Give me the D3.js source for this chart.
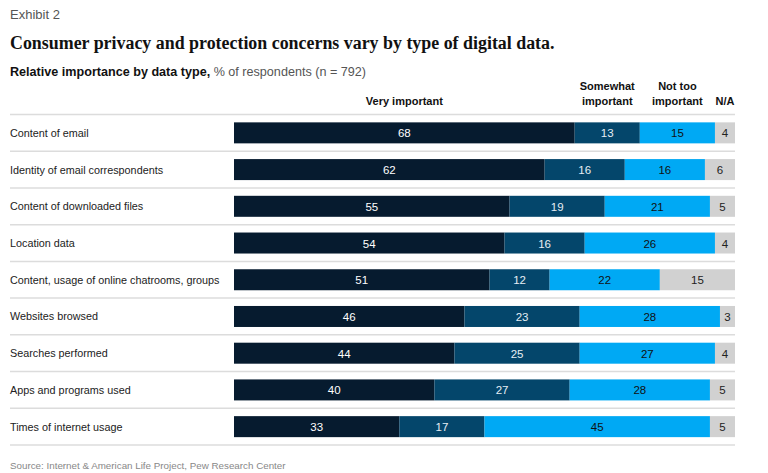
<!DOCTYPE html>
<html><head><meta charset="utf-8">
<script src="https://cdn.jsdelivr.net/npm/d3@7"></script>
<style>body{margin:0;background:#fff;} svg{display:block;}</style>
</head><body>
<svg id="chart" width="768" height="473"></svg>
<script>
const categories = ["Content of email","Identity of email correspondents","Content of downloaded files","Location data","Content, usage of online chatrooms, groups","Websites browsed","Searches performed","Apps and programs used","Times of internet usage"];
const veryImportant = [68,62,55,54,51,46,44,40,33];
const somewhatImportant = [13,16,19,16,12,23,25,27,17];
const notTooImportant = [15,16,21,26,22,28,27,28,45];
const notApplicable = [4,6,5,4,15,3,4,5,5];
const seriesNames = ["Very important","Somewhat important","Not too important","N/A"];
const seriesColors = ["#061b2f","#04466b","#00a9f4","#d1d1d1"];
const labelColors = ["#ffffff","#e6eef4","#111111","#222222"];

const svg = d3.select("#chart");
const font = "Helvetica, Arial, 'Liberation Sans', sans-serif";

svg.append("text").attr("x",10).attr("y",19).attr("font-family",font).attr("font-size",13).attr("fill","#555").text("Exhibit 2");
svg.append("text").attr("x",10).attr("y",49).attr("font-family","'Liberation Serif', 'DejaVu Serif', serif").attr("font-weight","bold").attr("font-size",17.9).attr("fill","#111").text("Consumer privacy and protection concerns vary by type of digital data.");
const sub = svg.append("text").attr("x",10).attr("y",76).attr("font-family",font).attr("font-size",12.6).attr("fill","#111");
sub.append("tspan").attr("font-weight","bold").text("Relative importance by data type,");
sub.append("tspan").attr("fill","#555").text(" % of respondents (n = 792)");

const data = categories.map((c,i)=>({cat:c, v:[veryImportant[i],somewhatImportant[i],notTooImportant[i],notApplicable[i]]}));
const x = d3.scaleLinear().domain([0,100]).range([234,735]);
const y = d3.scaleBand().domain(categories).range([114.5,445]).paddingInner(0).paddingOuter(0);
const barH = 21;

// header
const hdr = [
  {lines:["Very important"], cx:(x(0)+x(68))/2},
  {lines:["Somewhat","important"], cx:(x(68)+x(81))/2},
  {lines:["Not too","important"], cx:(x(81)+x(96))/2},
  {lines:["N/A"], cx:(x(96)+x(100))/2}
];
hdr.forEach(h=>{
  h.lines.forEach((l,k)=>{
    svg.append("text").attr("x",h.cx).attr("y",105 - (h.lines.length-1-k)*15).attr("text-anchor","middle")
      .attr("font-family",font).attr("font-weight","bold").attr("font-size",11).attr("fill","#111").text(l);
  });
});

// separators
const seps = [y.range()[0]].concat(categories.map(c=>y(c)+y.bandwidth()));
svg.selectAll("line.sep").data(seps).enter().append("line")
  .attr("x1",10).attr("x2",735).attr("y1",d=>d).attr("y2",d=>d)
  .attr("stroke","#dcdcdc").attr("stroke-width",1.5);

const rows = svg.selectAll("g.row").data(data).enter().append("g")
  .attr("transform",d=>`translate(0,${y(d.cat)+y.bandwidth()/2})`);
rows.append("text").attr("x",10).attr("y",4).attr("font-family",font).attr("font-size",10.8).attr("fill","#222").text(d=>d.cat);

rows.each(function(d){
  const g = d3.select(this);
  let cum = 0;
  d.v.forEach((v,k)=>{
    const x0 = x(cum), x1 = x(cum+v);
    g.append("rect").attr("x",x0).attr("y",-barH/2).attr("width",x1-x0).attr("height",barH).attr("fill",seriesColors[k]);
    g.append("text").attr("x",(x0+x1)/2).attr("y",4.5).attr("text-anchor","middle").attr("font-family",font)
      .attr("font-size",11.5).attr("fill",labelColors[k]).text(v);
    cum += v;
  });
});

svg.append("text").attr("x",10).attr("y",469).attr("font-family",font).attr("font-size",9.8).attr("fill","#888").text("Source: Internet & American Life Project, Pew Research Center");
</script>
</body></html>
